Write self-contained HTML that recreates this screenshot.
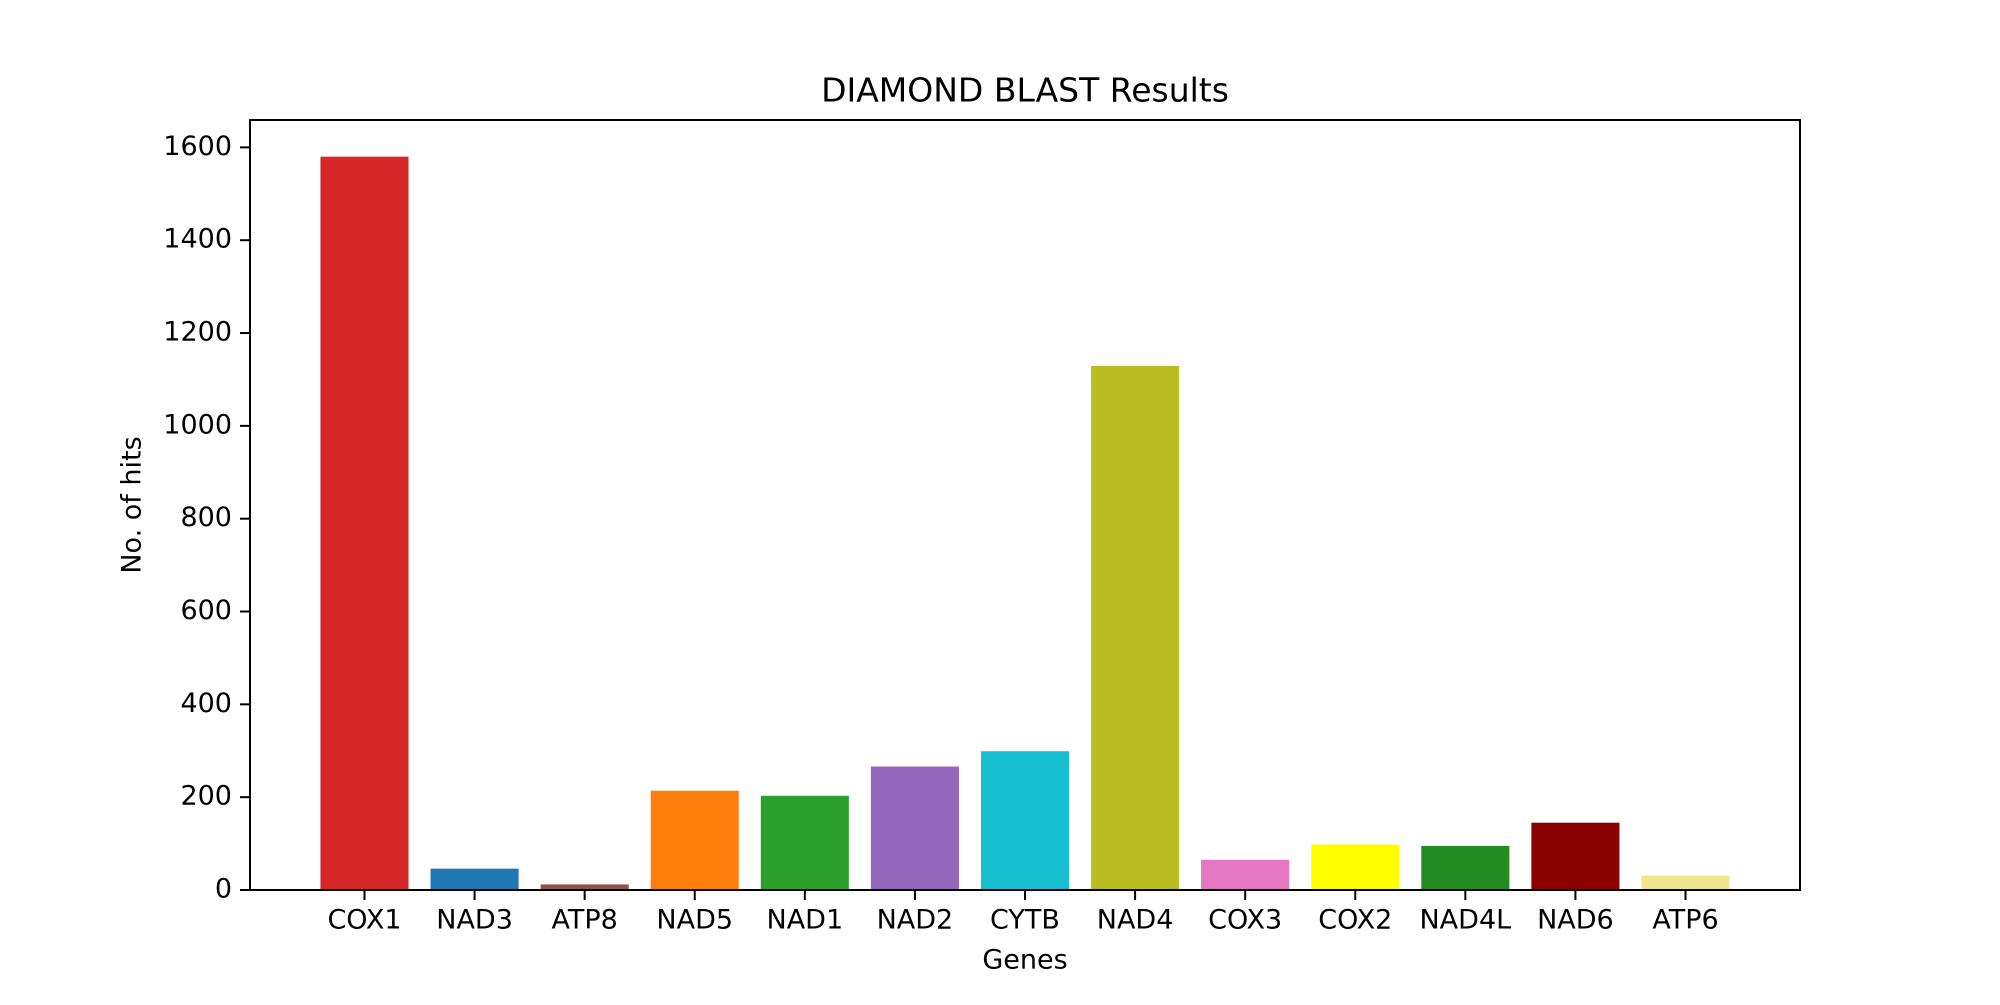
<!DOCTYPE html>
<html><head><meta charset="utf-8"><style>
body{margin:0;background:#fff;}
svg text{font-family:"DejaVu Sans","Liberation Sans",sans-serif;fill:#000;}
</style></head><body>
<svg id="chart" width="2000" height="1000" xmlns="http://www.w3.org/2000/svg">
<rect width="2000" height="1000" fill="#fff"/>
<g id="bars"></g>
<g id="axes"></g>
<text x="1025" y="92" font-size="33" text-anchor="middle" dominant-baseline="middle">DIAMOND BLAST Results</text>
<text x="1025" y="961" font-size="27" text-anchor="middle" dominant-baseline="middle">Genes</text>
<text x="133" y="505" font-size="27" text-anchor="middle" dominant-baseline="middle" transform="rotate(-90 133 505)">No. of hits</text>
</svg>
<script>
const categories=["COX1","NAD3","ATP8","NAD5","NAD1","NAD2","CYTB","NAD4","COX3","COX2","NAD4L","NAD6","ATP6"];
const values=[1580,46,12,214,203,266,299,1129,65,98,95,145,31];
const colors=["#d62728","#1f77b4","#8c564b","#ff7f0e","#2ca02c","#9467bd","#17becf","#bcbd22","#e377c2","#ffff00","#228b22","#8b0000","#f0e68c"];
const yTicks=[0,200,400,600,800,1000,1200,1400,1600];
const NS="http://www.w3.org/2000/svg";
const L=250,R=1800,T=120,B=890;
const yMax=Math.max(...values)*1.05;
const x0=-1.04,x1=categories.length-1+1.04;
const xs=v=>L+(v-x0)/(x1-x0)*(R-L);
const ys=v=>B-v/yMax*(B-T);
const bars=document.getElementById('bars'),axes=document.getElementById('axes');
function mk(tag,attrs,parent){const e=document.createElementNS(NS,tag);for(const k in attrs)e.setAttribute(k,attrs[k]);parent.appendChild(e);return e;}
categories.forEach((c,i)=>{
  const r=mk('rect',{x:xs(i-0.4),y:ys(values[i]),width:xs(i+0.4)-xs(i-0.4),height:B-ys(values[i]),fill:colors[i]},bars);
  
  
  const t=mk('line',{x1:xs(i),x2:xs(i),y1:B,y2:B+10,stroke:'#000','stroke-width':2},axes);
  
  
  const lb=mk('text',{x:xs(i),y:B+31,'font-size':27,'text-anchor':'middle','dominant-baseline':'middle'},axes);
  lb.textContent=c;
  
  
});
yTicks.forEach(v=>{
  const t=mk('line',{x1:L-10,x2:L,y1:ys(v),y2:ys(v),stroke:'#000','stroke-width':2},axes);
  
  
  const lb=mk('text',{x:L-18,y:ys(v),'font-size':27,'text-anchor':'end','dominant-baseline':'middle'},axes);
  lb.textContent=v;
  
  
});
const f=mk('rect',{x:L,y:T,width:R-L,height:B-T,fill:'none',stroke:'#000','stroke-width':2},axes);


</script>
</body></html>
